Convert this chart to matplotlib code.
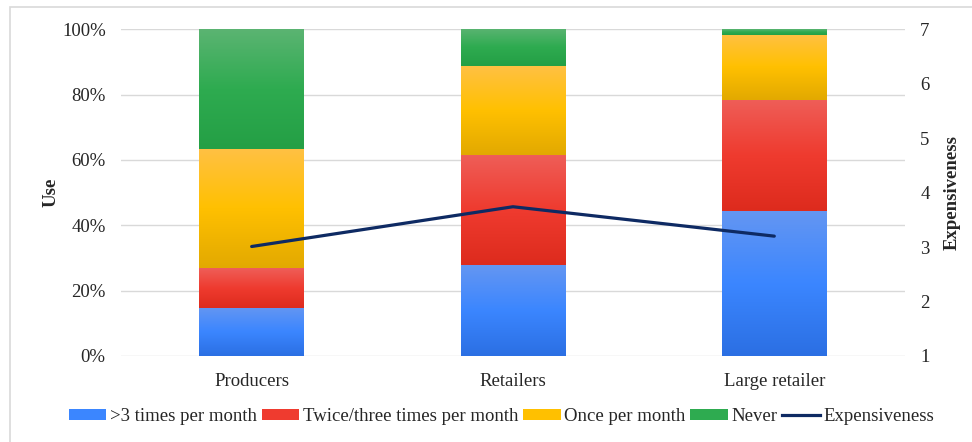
import matplotlib
matplotlib.use("Agg")
import matplotlib.pyplot as plt
import numpy as np
from matplotlib.colors import LinearSegmentedColormap
from matplotlib.patches import Patch, Rectangle
from matplotlib.lines import Line2D
from matplotlib.ticker import PercentFormatter

plt.rcParams['font.family'] = ['Liberation Serif', 'DejaVu Serif']

categories = ["Producers", "Retailers", "Large retailer"]
series_names = [">3 times per month", "Twice/three times per month", "Once per month", "Never"]
more_than_3 = [0.148, 0.278, 0.443]
twice_three = [0.122, 0.337, 0.340]
once = [0.363, 0.271, 0.199]
never = [0.367, 0.114, 0.018]
expensiveness = [3.01, 3.74, 3.20]

series = [more_than_3, twice_three, once, never]
# (top, mid, bottom) gradient colours, solid legend colour
grads = [("#6496F2", "#3B86FF", "#2B6FE3"),
         ("#EE5E58", "#EF3B2F", "#DD2B1D"),
         ("#FFC143", "#FFC000", "#E2A900"),
         ("#5BB472", "#2EAB50", "#249F45")]
solid = ["#3B86FF", "#EF3B2F", "#FFC000", "#2EAB50"]
line_color = "#0E2A63"
text_color = "#262626"
fs = 13.5

fig = plt.figure(figsize=(9.72, 4.42), dpi=100)
ax = fig.add_axes([0.1245, 0.1946, 0.8065, 0.7394])
ax2 = ax.twinx()

x = np.arange(len(categories))
bottom = np.zeros(len(categories))
bar_containers = []
for vals, c in zip(series, solid):
    bc = ax.bar(x, vals, width=0.4, bottom=bottom, color=c, zorder=2)
    bar_containers.append(bc)
    bottom = bottom + np.array(vals)

ax.set_xlim(-0.5, len(categories) - 0.5)
ax.set_ylim(0, 1)

# gradient overlay clipped to each bar
for bc, (ct, cm, cb) in zip(bar_containers, grads):
    cmap = LinearSegmentedColormap.from_list("g", [cb, cm, ct])
    grad = np.linspace(0, 1, 256).reshape(-1, 1)
    for p in bc.patches:
        x0, y0 = p.get_x(), p.get_y()
        w, h = p.get_width(), p.get_height()
        if h <= 0:
            continue
        im = ax.imshow(grad, extent=[x0, x0 + w, y0, y0 + h], origin="lower",
                       cmap=cmap, aspect="auto", zorder=2.5, interpolation="bilinear")
        im.set_clip_path(p)
ax.set_xlim(-0.5, len(categories) - 0.5)
ax.set_ylim(0, 1)
ax.set_aspect("auto")

ax.set_yticks(np.linspace(0, 1, 6))
ax.yaxis.set_major_formatter(PercentFormatter(1.0, decimals=0))
ax.set_xticks(x)
ax.set_xticklabels(categories)
ax.grid(axis="y", color="#D9D9D9", linewidth=1.0, zorder=0)
ax.set_axisbelow(True)
for s in ax.spines.values():
    s.set_visible(False)
for s in ax2.spines.values():
    s.set_visible(False)
ax.tick_params(axis="y", length=0, labelsize=fs, colors=text_color, pad=11)
ax.tick_params(axis="x", length=0, labelsize=fs, colors=text_color, pad=12)
ax.set_ylabel("Use", fontsize=fs, fontweight="bold", labelpad=2, color=text_color)

ax2.plot(x, expensiveness, color=line_color, linewidth=2.3, zorder=5, solid_capstyle="round")
ax2.set_ylim(1, 7)
ax2.set_yticks(range(1, 8))
ax2.tick_params(axis="y", length=0, labelsize=fs, colors=text_color, pad=11)
ax2.set_ylabel("Expensiveness", fontsize=fs, fontweight="bold", labelpad=10, color=text_color)

handles = [Patch(facecolor=c, edgecolor="none") for c in solid]
handles.append(Line2D([0], [0], color=line_color, linewidth=2.3))
labels = series_names + ["Expensiveness"]
leg = fig.legend(handles, labels, loc="center", bbox_to_anchor=(0.516, 0.0566), ncol=5,
                 frameon=False, fontsize=fs, handlelength=2.0, handleheight=0.5,
                 handletextpad=0.2, columnspacing=0.25, labelcolor=text_color)

# outer chart frame
fig.add_artist(Rectangle((10 / 972, -0.1), 1.2, 1.1 - 7 / 442, transform=fig.transFigure,
                         fill=False, edgecolor="#D9D9D9", linewidth=1.2))

fig.savefig("out.png", dpi=100)
